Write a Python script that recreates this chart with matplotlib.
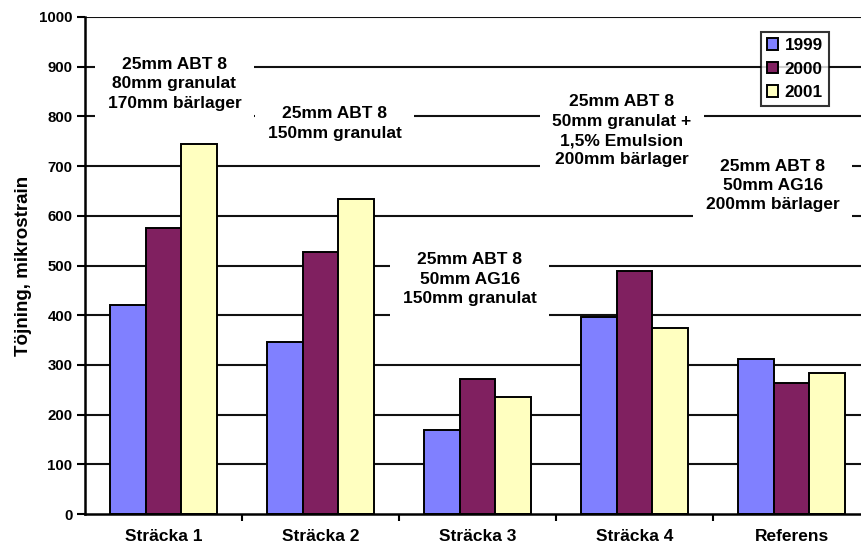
import matplotlib
matplotlib.use("Agg")
import matplotlib.pyplot as plt
import numpy as np

plt.rcParams['font.family'] = ['Liberation Sans', 'DejaVu Sans']
plt.rcParams['font.weight'] = 'bold'

categories = ["Sträcka 1", "Sträcka 2", "Sträcka 3", "Sträcka 4", "Referens"]
years = ["1999", "2000", "2001"]
values_1999 = [420, 347, 169, 397, 311]
values_2000 = [576, 528, 272, 488, 263]
values_2001 = [744, 633, 235, 375, 283]
colors = ["#8080FF", "#802060", "#FFFFC0"]

y_ticks = [0, 100, 200, 300, 400, 500, 600, 700, 800, 900, 1000]
y_label = "Töjning, mikrostrain"

# construction notes placed over the plot (x in category units, y in data units)
notes = [
    ("25mm ABT 8\n80mm granulat\n170mm bärlager", 0.07, 866),
    ("25mm ABT 8\n150mm granulat", 1.09, 786),
    ("25mm ABT 8\n50mm granulat +\n1,5% Emulsion\n200mm bärlager", 2.92, 771),
    ("25mm ABT 8\n50mm AG16\n200mm bärlager", 3.88, 661),
    ("25mm ABT 8\n50mm AG16\n150mm granulat", 1.95, 472),
]

fig = plt.figure(figsize=(8.62, 5.48), dpi=100)
ax = fig.add_axes([85 / 862, 34 / 548, 785 / 862, 497 / 548])

x = np.arange(len(categories))
bw = 0.226
series = [values_1999, values_2000, values_2001]
for i, (vals, col, lab) in enumerate(zip(series, colors, years)):
    ax.bar(x + (i - 1) * bw, vals, width=bw, color=col, edgecolor="black",
           linewidth=1.4, label=lab, zorder=2)

ax.set_xlim(-0.5, len(categories) - 0.5)
ax.set_ylim(0, 1000)
ax.set_yticks(y_ticks)
ax.set_yticklabels([str(t) for t in y_ticks], fontsize=10.8, fontweight="bold")
ax.set_xticks(x)
ax.set_xticklabels(categories, fontsize=12.5, fontweight="bold")
ax.set_xticks(np.arange(0.5, len(categories) - 0.5, 1), minor=True)
ax.tick_params(axis="x", which="major", length=0, pad=11)
ax.tick_params(axis="x", which="minor", length=5, width=1.5, direction="out")
ax.tick_params(axis="y", length=6, width=1.5, direction="out", pad=3)

for t in y_ticks[1:]:
    ax.axhline(t, color="#111111", linewidth=1.5, zorder=0.5)

for s in ["top", "right"]:
    ax.spines[s].set_visible(False)
for s in ["left", "bottom"]:
    ax.spines[s].set_linewidth(1.8)
    ax.spines[s].set_zorder(3)

ax.set_ylabel(y_label, fontsize=13.5, fontweight="bold", labelpad=5)

for text, xc, yc in notes:
    ax.text(xc, yc, text, ha="center", va="center", fontsize=12.5,
            fontweight="bold", linespacing=1.37, zorder=3,
            bbox=dict(boxstyle="square,pad=0.72", facecolor="white",
                      edgecolor="none"))

leg = ax.legend(loc="upper left", bbox_to_anchor=(761 / 862, 1 - 32 / 548),
                bbox_transform=fig.transFigure, frameon=True, fancybox=False,
                edgecolor="black", fontsize=12.3, handlelength=0.66,
                handleheight=0.66, handletextpad=0.35, labelspacing=0.5,
                borderpad=0.36, borderaxespad=0)
leg.get_frame().set_linewidth(1.5)
leg.set_zorder(4)

fig.savefig("out.png", dpi=100)
